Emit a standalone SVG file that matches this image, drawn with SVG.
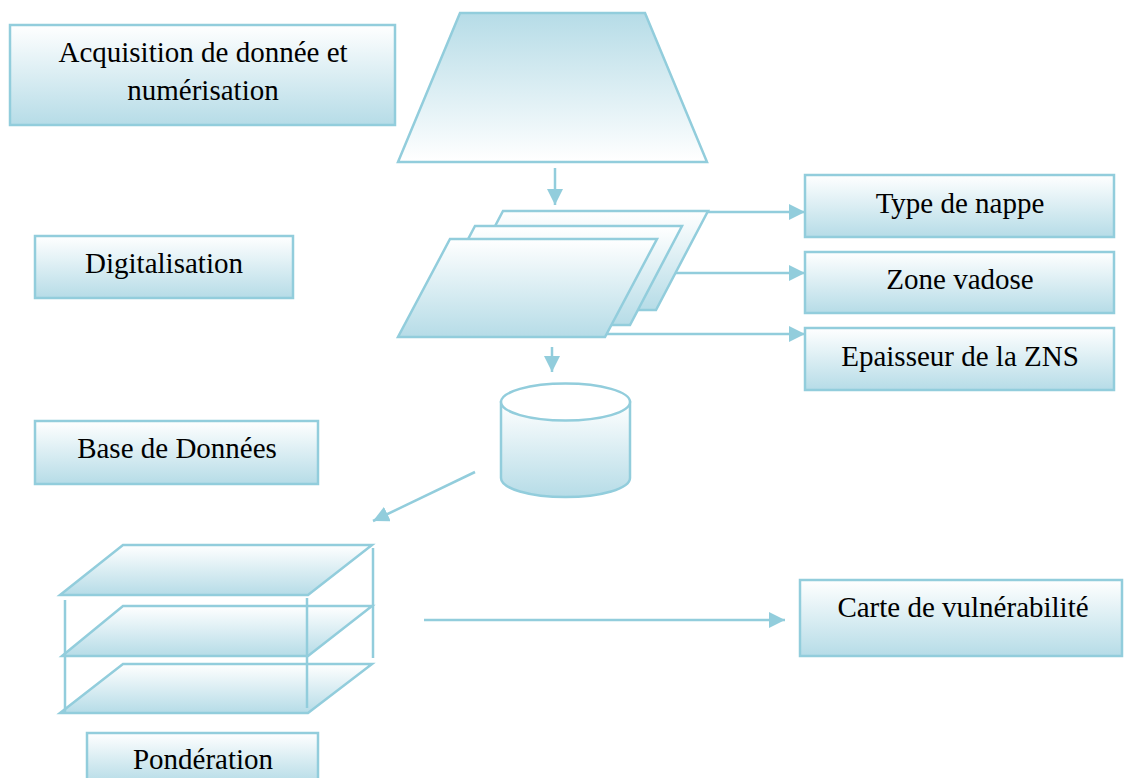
<svg xmlns="http://www.w3.org/2000/svg" width="1126" height="778" viewBox="0 0 1126 778">
  <defs>
    <linearGradient id="gDown" x1="0" y1="0" x2="0" y2="1">
      <stop offset="0" stop-color="#ffffff"/>
      <stop offset="1" stop-color="#b6dce7"/>
    </linearGradient>
    <linearGradient id="gUp" x1="0" y1="0" x2="0" y2="1">
      <stop offset="0" stop-color="#b6dce7"/>
      <stop offset="1" stop-color="#ffffff"/>
    </linearGradient>
    <marker id="arr" viewBox="0 0 16 16" refX="16" refY="8" markerWidth="16" markerHeight="16" markerUnits="userSpaceOnUse" orient="auto">
      <path d="M0,0 L16,8 L0,16 z" fill="#92cddc"/>
    </marker>
    <style>
      .box { fill: url(#gDown); stroke: #92cddc; stroke-width: 2.5; }
      .shp { fill: url(#gDown); stroke: #92cddc; stroke-width: 2.5; stroke-linejoin: miter; }
      .ln { fill: none; stroke: #92cddc; stroke-width: 2.5; }
      .con { fill: none; stroke: #92cddc; stroke-width: 2.5; marker-end: url(#arr); }
      text { font-family: "Liberation Serif", "Times New Roman", serif; font-size: 29px; fill: #000; text-anchor: middle; }
    </style>
  </defs>

  <g id="acquisition">
    <rect class="box" x="10" y="25" width="385" height="100"/>
    <text x="203" y="62">Acquisition de donnée et</text>
    <text x="203" y="100">numérisation</text>
  </g>

  <g id="digitalisation">
    <rect class="box" x="35" y="236" width="258" height="62"/>
    <text x="164" y="273">Digitalisation</text>
  </g>

  <g id="base-de-donnees">
    <rect class="box" x="35" y="421" width="283" height="63"/>
    <text x="177" y="458">Base de Données</text>
  </g>

  <g id="trapezoid">
    <polygon points="460,13 645,13 707,162 398,162" fill="url(#gUp)" stroke="#92cddc" stroke-width="2.5"/>
  </g>

  <g id="layers">
    <polygon class="shp" points="503,211 708,211 656,310 451,310"/>
    <polygon class="shp" points="475,226 682,226 630,325 423,325"/>
    <polygon class="shp" points="450,239 657,239 605,337 398,337"/>
  </g>

  <g id="cylinder">
    <path class="shp" d="M501,402 L501,478 A64.5,19 0 0 0 630,478 L630,402 Z"/>
    <ellipse cx="565.5" cy="402" rx="64.5" ry="18.5" fill="#ffffff" stroke="#92cddc" stroke-width="2.5"/>
  </g>

  <g id="type-de-nappe">
    <rect class="box" x="805" y="175" width="309" height="62"/>
    <text x="960" y="213">Type de nappe</text>
  </g>

  <g id="zone-vadose">
    <rect class="box" x="805" y="252" width="309" height="61"/>
    <text x="960" y="289">Zone vadose</text>
  </g>

  <g id="epaisseur-zns">
    <rect class="box" x="805" y="328" width="309" height="62"/>
    <text x="960" y="366">Epaisseur de la ZNS</text>
  </g>

  <g id="ponderation-stack">
    <polygon class="shp" points="123,545 372,545 308,595 60,595"/>
    <polygon class="shp" points="123,606 372,606 308,656 62,656"/>
    <polygon class="shp" points="123,664 372,664 308,713 60,713"/>
    <line class="ln" x1="65" y1="600" x2="65" y2="713"/>
    <line class="ln" x1="307" y1="598" x2="307" y2="708"/>
    <line class="ln" x1="373" y1="548" x2="373" y2="658"/>
  </g>

  <g id="ponderation">
    <rect class="box" x="87" y="733" width="231" height="50"/>
    <text x="203" y="769">Pondération</text>
  </g>

  <g id="carte">
    <rect class="box" x="800" y="580" width="322" height="76"/>
    <text x="963" y="617">Carte de vulnérabilité</text>
  </g>

  <g id="connectors">
    <line class="con" x1="555" y1="168" x2="555" y2="205"/>
    <line class="con" x1="708" y1="212" x2="805" y2="212"/>
    <line class="con" x1="676" y1="273" x2="805" y2="273"/>
    <line class="con" x1="606" y1="334" x2="805" y2="334"/>
    <line class="con" x1="552" y1="347" x2="552" y2="372"/>
    <line class="con" x1="475" y1="472" x2="373" y2="521"/>
    <line class="con" x1="424" y1="620" x2="785" y2="620"/>
  </g>
</svg>
